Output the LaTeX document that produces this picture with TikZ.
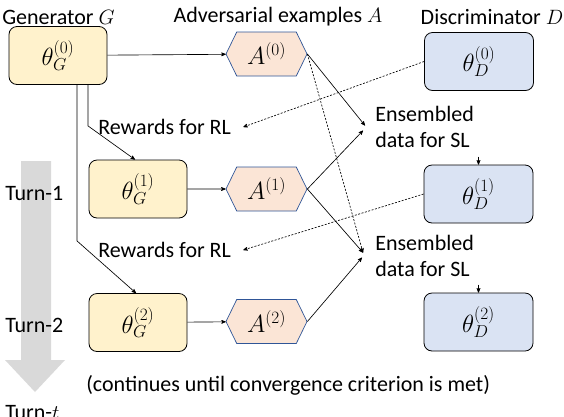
\documentclass[tikz,border=0pt]{standalone}
\usepackage{fontspec}
\setmainfont{Carlito}
\usepackage{xcolor}
\usetikzlibrary{positioning, arrows, shapes.symbols}

\definecolor{genfill}{HTML}{FFF2CC}
\definecolor{advfill}{HTML}{FBE5D6}
\definecolor{advline}{HTML}{2F5597}
\definecolor{disfill}{HTML}{DAE3F3}
\definecolor{turngray}{HTML}{D9D9D9}

\begin{document}
\begin{tikzpicture}[x=1pt,y=-1pt,>=stealth',line width=0.65pt,
    every node/.style={font=\fontsize{22}{26}\selectfont,inner sep=0pt}]
        \tikzstyle{gbox}=[draw,line width=0.8pt,rounded corners=8pt,fill=genfill,minimum width=98pt,minimum height=58pt,font=\fontsize{23}{27}\selectfont]
        \tikzstyle{dbox}=[gbox,fill=disfill,minimum width=109pt]
        \tikzstyle{abox}=[signal,signal to=east and west,signal pointer angle=128,draw=advline,line width=0.7pt,fill=advfill,minimum width=81pt,minimum height=44pt,font=\fontsize{23}{27}\selectfont]
        \tikzstyle{fine dash}=[dash pattern=on 2pt off 1.5pt]

        \useasboundingbox (0,0) rectangle (564,416);

        % turns
        \fill[turngray] (21,161) -- (51,161) -- (51,360) -- (65,360) -- (35,392) -- (5,360) -- (21,360) -- cycle;
        \node[anchor=west] (T1) at (5,193) {Turn-1};
        \node[anchor=west] (T2) at (5,325) {Turn-2};
        \node[anchor=west] (Tt) at (5,413) {Turn-$t$};

        % titles
        \node[anchor=west] (tG) at (2,17)   {Generator $G$};
        \node              (tA) at (278,17) {Adversarial examples $A$};
        \node              (tD) at (492,17) {Discriminator $D$};

        \node[gbox] (G0) at (58,55.5)  {$\theta_G^{(0)}$};
        \node[gbox] (G1) at (138,189)  {$\theta_G^{(1)}$};
        \node[gbox] (G2) at (138,322.5) {$\theta_G^{(2)}$};
        \node[abox] (A0) at (266.5,54)    {$A^{(0)}$};
        \node[abox] (A1) at (266.5,189)   {$A^{(1)}$};
        \node[abox] (A2) at (266.5,321.5) {$A^{(2)}$};
        \node[dbox] (D0) at (479,61.5)  {$\theta_D^{(0)}$};
        \node[dbox] (D1) at (478.5,194) {$\theta_D^{(1)}$};
        \node[dbox] (D2) at (478.5,322) {$\theta_D^{(2)}$};

        \node[anchor=west] (R1) at (98,127) {Rewards for RL};
        \node[anchor=west] (R2) at (98,250) {Rewards for RL};
        \node[anchor=north west,align=left] (E1) at (375,106) {Ensembled\\data for SL};
        \node[anchor=north west,align=left] (E2) at (375,235) {Ensembled\\data for SL};

        \node[anchor=west] (note) at (86,385) {(continues until convergence criterion is met)};

        % generator
        \draw[->] (G0) -- (A0);
        \draw[->] (G1) -- (A1);
        \draw[->] (G2) -- (A2);
        \draw[->] ([xshift=30pt]G0.south) -- ++(0,41) -- ([xshift=-3pt]G1.north);
        \draw[->] ([xshift=19pt]G0.south) -- ++(0,156) -- ([xshift=-2pt]G2.north);

        % rewards
        \draw[->,fine dash] (D0.west) -- ([xshift=12pt]R1.east);
        \draw[->,fine dash] (D1.west) -- ([xshift=12pt]R2.east);

        % ensembled data
        \draw[->]           (A0.east) -- ([shift={(-10,-1.5)}]E1.west);
        \draw[->]           (A1.east) -- ([shift={(-12,3.5)}]E1.west);
        \draw[->,fine dash] (A0.east) -- ([shift={(-12,-3.5)}]E2.west);
        \draw[->]           (A1.east) -- ([shift={(-12,-3.5)}]E2.west);
        \draw[->]           (A2.east) -- ([shift={(-13,1.5)}]E2.west);
        \draw[->] ([shift={(0,-8)}]D1.north) -- (D1.north);
        \draw[->] ([shift={(0,-8)}]D2.north) -- (D2.north);
    \end{tikzpicture}
\end{document}
